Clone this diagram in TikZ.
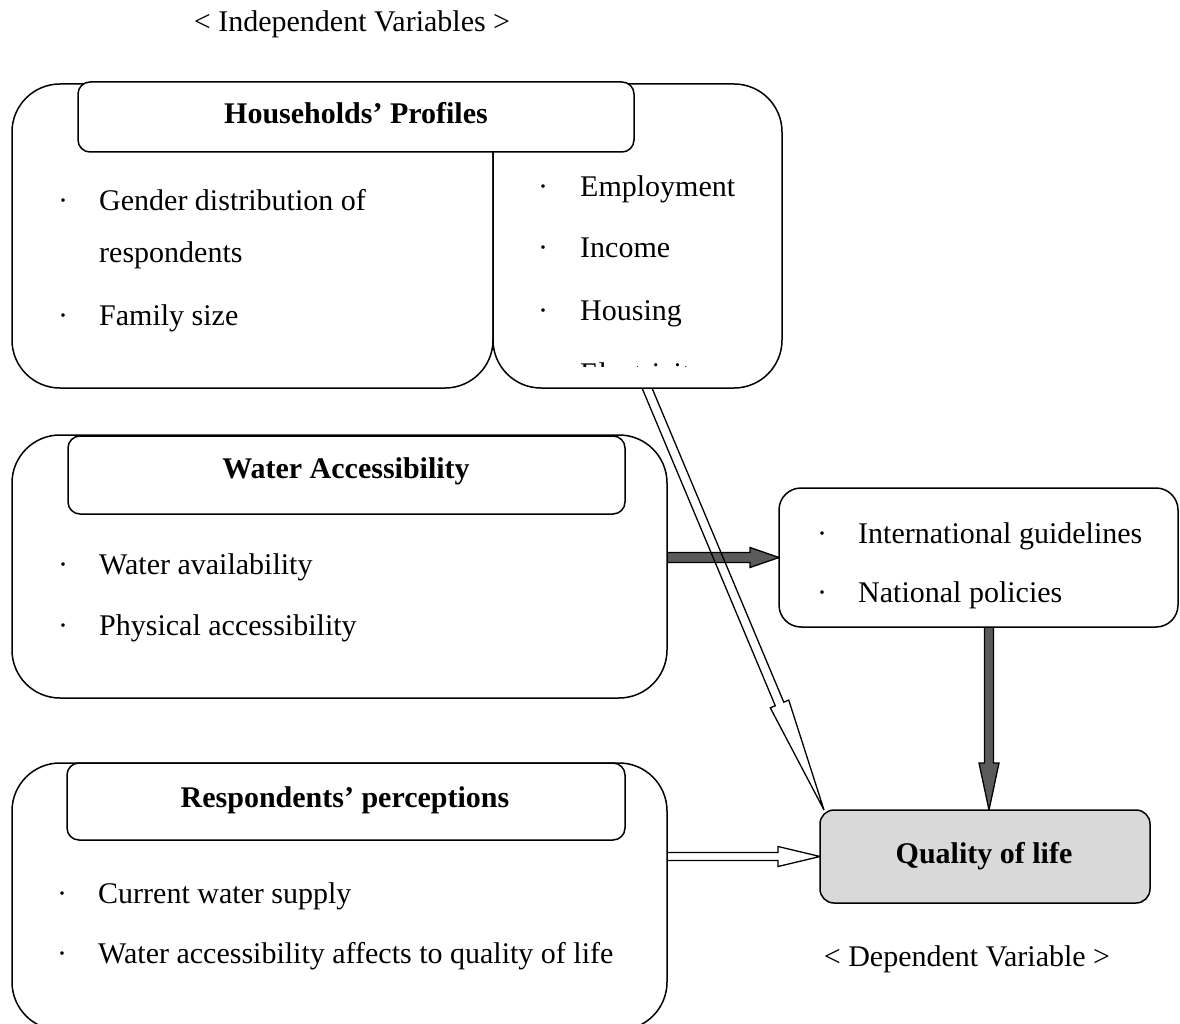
\documentclass[tikz,border=0pt]{standalone}
\usepackage{fontspec}
\setmainfont{Liberation Serif}
\usetikzlibrary{calc}
\pgfdeclarelayer{bg}
\pgfsetlayers{bg,main}
\definecolor{darkfill}{RGB}{90,90,90}
\definecolor{qolfill}{RGB}{217,217,217}
\tikzset{
  box/.style={draw, line width=1.5pt, fill=white, rounded corners=48pt, inner sep=0pt, outer sep=0pt, anchor=north west},
  hdr/.style={draw, line width=1.5pt, fill=white, rounded corners=12pt, inner sep=0pt, outer sep=0pt, anchor=north west},
  txt/.style={font=\fontsize{30}{36}\selectfont, inner sep=0pt, anchor=base west},
  btxt/.style={font=\fontsize{30}{36}\selectfont\bfseries, inner sep=0pt, anchor=base},
  bul/.style={font=\fontsize{30}{36}\selectfont, inner sep=0pt, anchor=base},
  darkarr/.style={draw, line width=1.3pt, fill=darkfill, line join=miter},
  whitearr/.style={draw, line width=1.3pt, fill=white, line join=miter},
  openarr/.style={draw, line width=1.3pt, line join=miter},
}
% start, tip, shaft half-width, head half-width, head length, style
\newcommand{\myblockarrow}[6]{%
  \coordinate (tmpH) at ($(#2)!#5!(#1)$);
  \path[#6] ($(#1)!#3!90:(#2)$) -- ($(tmpH)!#3!-90:(#1)$) -- ($(tmpH)!#4!-90:(#1)$) -- (#2)
     -- ($(tmpH)!#4!90:(#1)$) -- ($(tmpH)!#3!90:(#1)$) -- ($(#1)!#3!-90:(#2)$) -- cycle;
}
\begin{document}
\begin{tikzpicture}[x=1pt,y=-1pt]
\useasboundingbox (0,0) rectangle (1180,1024);

% ---------- boxes ----------
\node[box, minimum width=481pt, minimum height=304pt] (hpL) at (12,84) {};
\node[box, minimum width=289pt, minimum height=304pt] (hpR) at (493,84) {};
\node[hdr, minimum width=556pt, minimum height=70pt] (hpH) at (78,82) {};

\node[box, minimum width=655pt, minimum height=263pt] (wa) at (12,435) {};
\node[hdr, minimum width=557pt, minimum height=78pt] (waH) at (68,436) {};

\node[box, minimum width=655pt, minimum height=267pt] (rp) at (12,763) {};
\node[hdr, minimum width=558pt, minimum height=77pt] (rpH) at (67,763) {};

\node[box, rounded corners=22pt, minimum width=399pt, minimum height=139pt] (pol) at (779,488) {};
\node[box, rounded corners=14pt, fill=qolfill, minimum width=330pt, minimum height=93pt] (qol) at (820,810) {};

% ---------- connectors (behind boxes) ----------
\begin{pgfonlayer}{bg}
  % Water Accessibility -> policies
  \coordinate (a1s) at (wa.center |- pol.west);
  \myblockarrow{a1s}{pol.west}{5pt}{10pt}{29pt}{darkarr}
  % policies -> Quality of life
  \coordinate (a2t) at ($(qol.north)+(4,0)$);
  \coordinate (a2s) at (a2t |- pol.center);
  \myblockarrow{a2s}{a2t}{4.5pt}{10pt}{47pt}{darkarr}
  % perceptions -> Quality of life
  \coordinate (a3s) at (rp.center |- qol.west);
  \myblockarrow{a3s}{qol.west}{4pt}{10pt}{42pt}{whitearr}
  % Households' profiles -> Quality of life
  \coordinate (a4e) at ($(hpR.south)+(9.5,0)$);
  \coordinate (a4t) at ($(qol.north west)+(4,0)$);
  \coordinate (a4s) at ($(a4e)!-25pt!(a4t)$);
  \myblockarrow{a4s}{a4t}{4.6pt}{10pt}{115pt}{openarr}
\end{pgfonlayer}

% ---------- texts ----------
\node[bul, anchor=base] (title) at (352,32) {< Independent Variables >};

\node[btxt] (hpT) at (hpH.center |- 0,124) {Households’ Profiles};
\node[bul] (b1) at (63,211) {·};
\node[txt] (t1) at (99,211) {Gender distribution of};
\node[txt] (t1b) at (99,263) {respondents};
\node[bul] (b2) at (63,325) {·};
\node[txt] (t2) at (99,325) {Family size};

\node[bul] (b3) at (543,197) {·};
\node[txt] (t3) at (580,197) {Employment};
\node[bul] (b4) at (543,258) {·};
\node[txt] (t4) at (580,258) {Income};
\node[bul] (b5) at (543,320) {·};
\node[txt] (t5) at (580,320) {Housing};
\begin{scope}
  \clip (500,300) rectangle (780,366.5);
  \node[bul] (b6) at (543,383) {·};
  \node[txt] (t6) at (580,383) {Electricity};
\end{scope}

\node[btxt] (waT) at (346,478) {Water Accessibility};
\node[bul] (b7) at (63,574) {·};
\node[txt] (t7) at (99,574) {Water availability};
\node[bul] (b8) at (63,635) {·};
\node[txt] (t8) at (99,635) {Physical accessibility};

\node[bul] (b9) at (822,543) {·};
\node[txt] (t9) at (858,543) {International guidelines};
\node[bul] (b10) at (822,602) {·};
\node[txt] (t10) at (858,602) {National policies};

\node[btxt] (rpT) at (345,807) {Respondents’ perceptions};
\node[bul] (b11) at (62,903) {·};
\node[txt] (t11) at (98,903) {Current water supply};
\node[bul] (b12) at (62,963) {·};
\node[txt] (t12) at (98,963) {Water accessibility affects to quality of life};

\node[btxt] (qolT) at (984,863) {Quality of life};
\node[bul] (dep) at (967,966) {< Dependent Variable >};
\end{tikzpicture}
\end{document}
